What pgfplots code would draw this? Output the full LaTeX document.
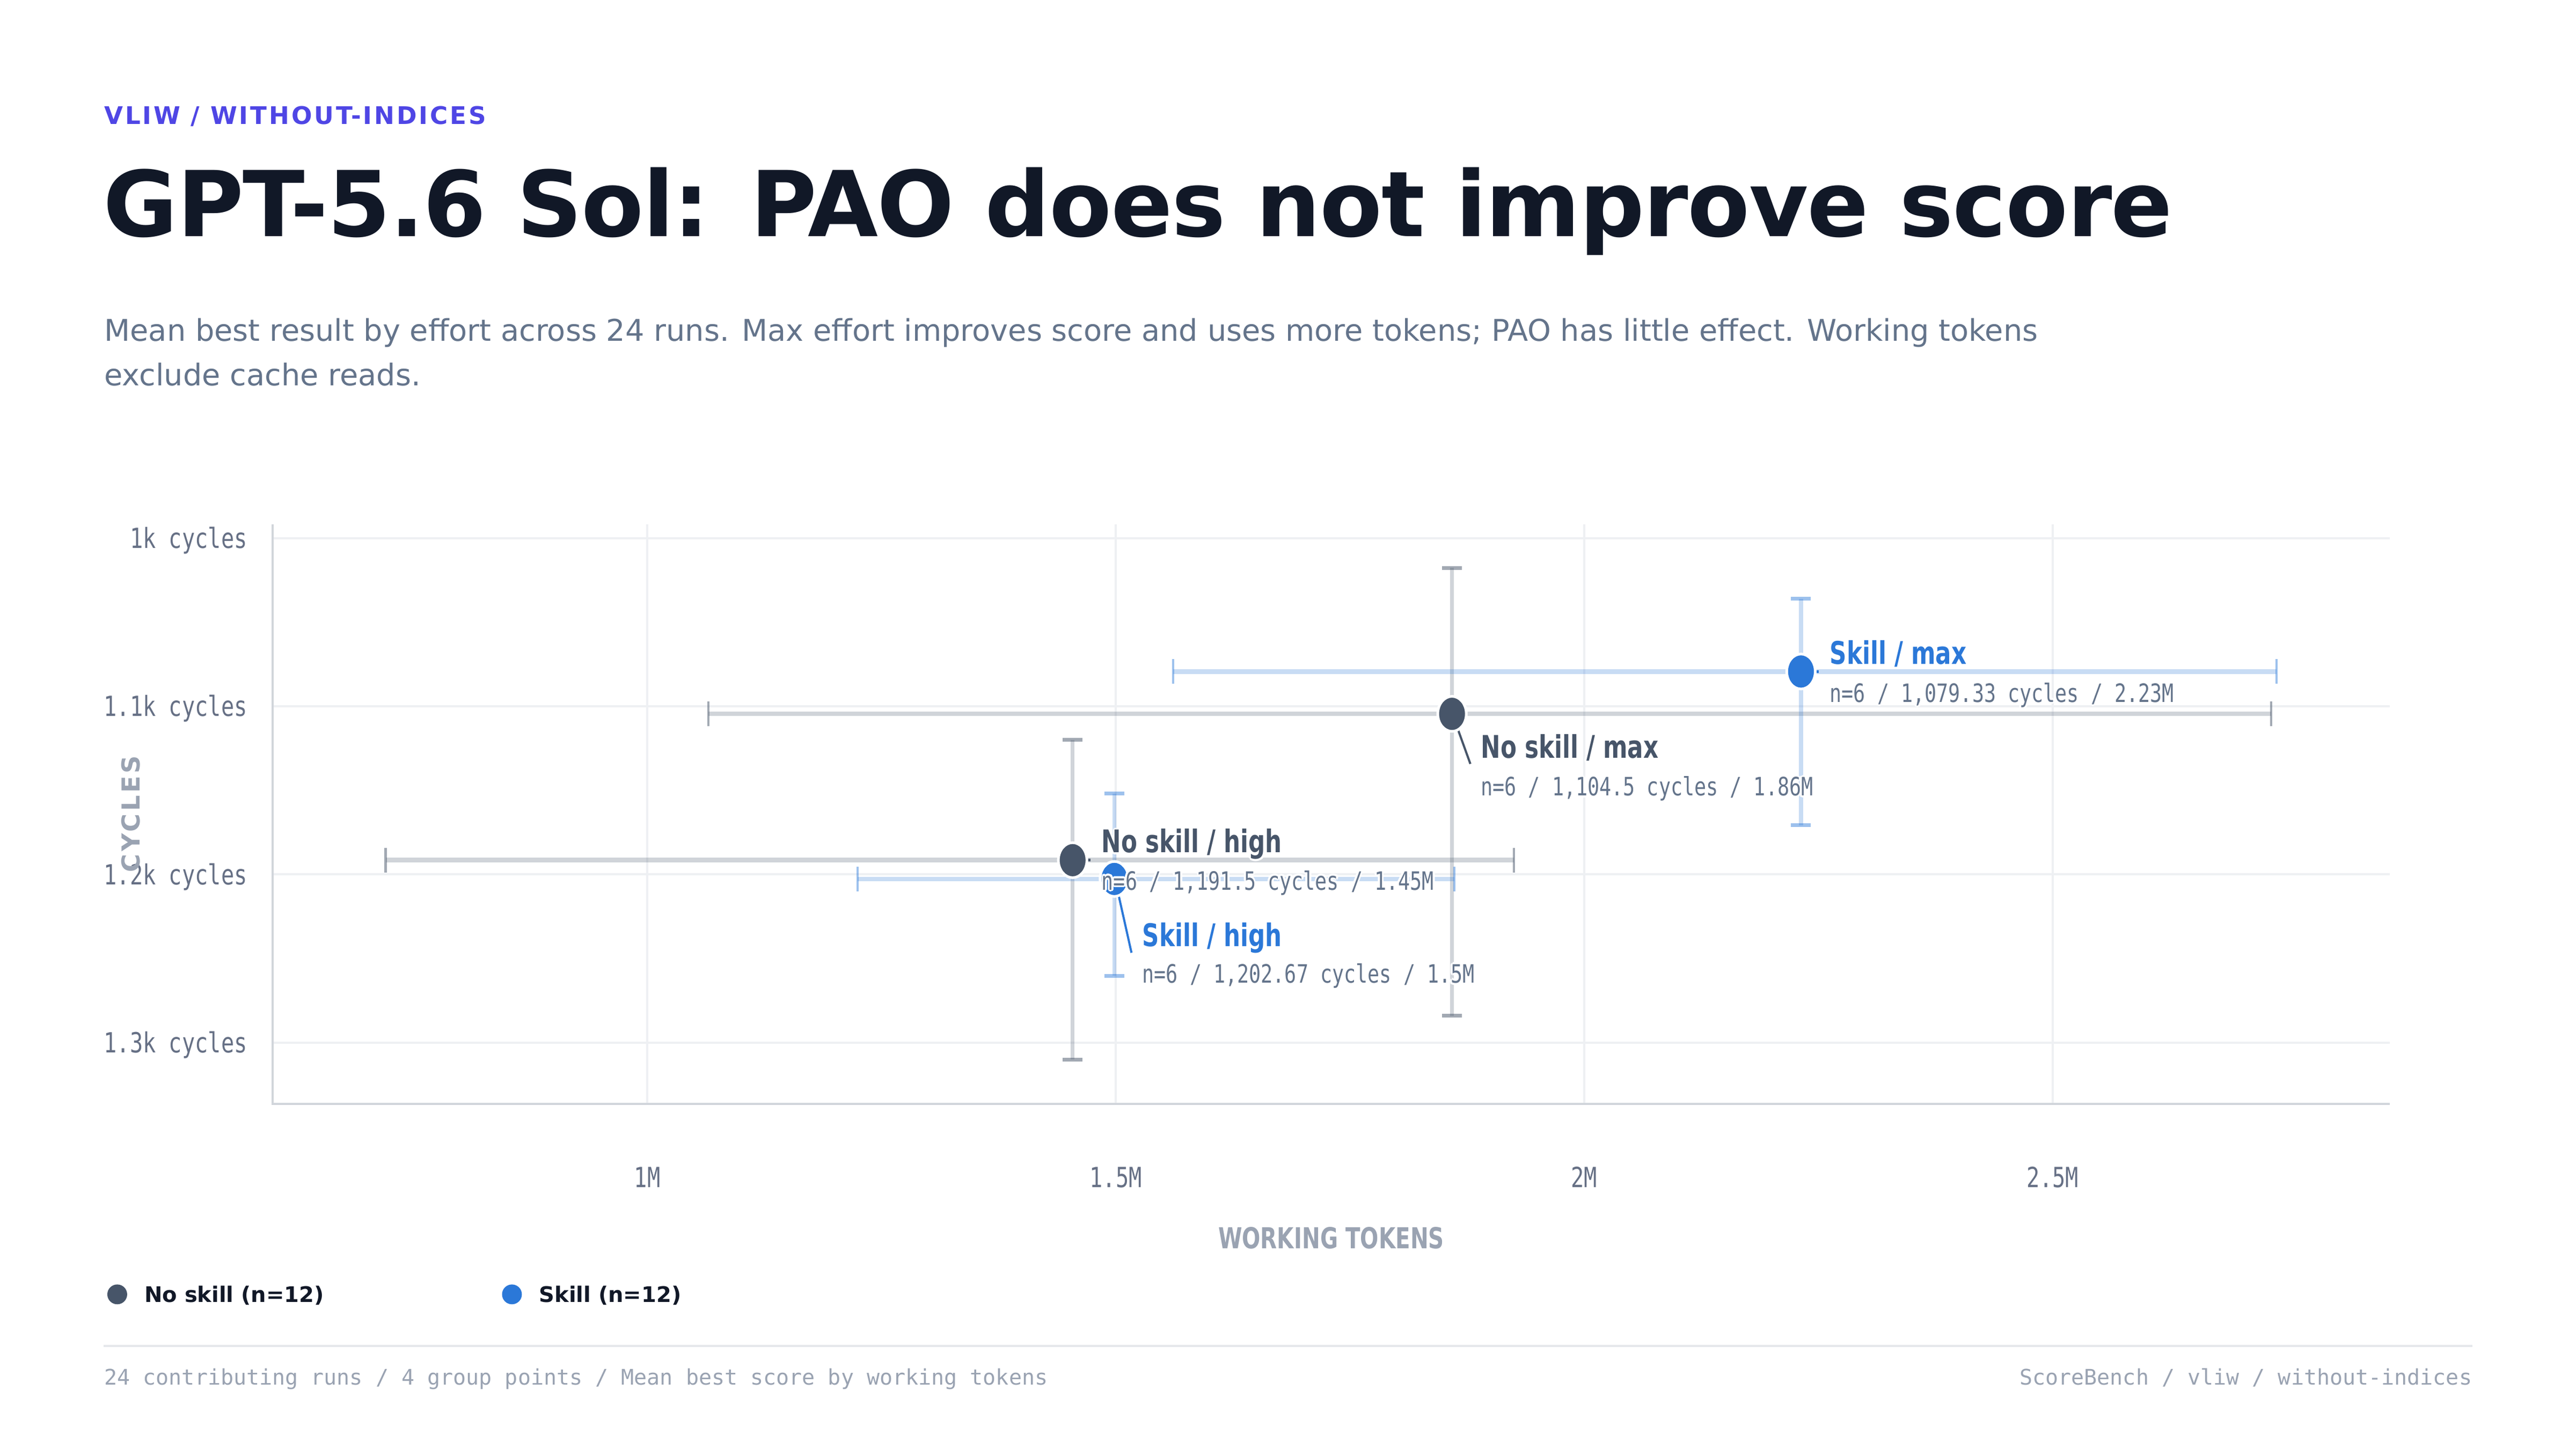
\documentclass[border=0pt]{standalone}
\usepackage{fontspec}
\setmainfont{DejaVu Sans}
\setmonofont{DejaVu Sans Mono}
\newfontfamily\condmono[FakeStretch=0.78]{DejaVu Sans Mono}
\newfontfamily\condsans[FakeStretch=0.75]{DejaVu Sans}
\usepackage{pgfplots}
\pgfplotsset{compat=1.18}

\definecolor{ink}{HTML}{111827}
\definecolor{eyebrow}{HTML}{4F46E5}
\definecolor{subt}{HTML}{64748B}
\definecolor{tickc}{HTML}{667085}
\definecolor{axtitle}{HTML}{9AA3B2}
\definecolor{gridc}{HTML}{EEF0F3}
\definecolor{axisc}{HTML}{D1D5DB}
\definecolor{noskill}{HTML}{475569}
\definecolor{skill}{HTML}{2B78D8}
\definecolor{footrule}{HTML}{E5E7EB}

\newcommand\halo[2]{%
\begingroup
\def\h##1##2{\rlap{\raisebox{##2}{\hspace*{##1}\color{white}#2}}}%
\h{1.2bp}{0bp}\h{-1.2bp}{0bp}\h{0bp}{1.2bp}\h{0bp}{-1.2bp}%
\h{0.85bp}{0.85bp}\h{-0.85bp}{0.85bp}\h{0.85bp}{-0.85bp}\h{-0.85bp}{-0.85bp}%
{\color{#1}#2}\endgroup}

\newcommand\lblfont{\condsans\bfseries\fontsize{18.9bp}{20bp}\selectfont}
\newcommand\subfont{\condmono\fontsize{15.3bp}{16bp}\selectfont}

\begin{document}
\begin{tikzpicture}
\path[use as bounding box, fill=white] (0,0) rectangle (1560bp,877.5bp);

% header
\node[anchor=base west, inner sep=0pt, text=eyebrow] at (62.9bp,802.1bp)
  {\fontsize{14.7bp}{16bp}\selectfont\bfseries\addfontfeature{LetterSpace=8.6}VLIW / WITHOUT-INDICES};
\node[anchor=base west, inner sep=0pt, text=ink] at (62.5bp,734.2bp)
  {\fontsize{55bp}{60bp}\selectfont\bfseries\addfontfeature{LetterSpace=-1.0}GPT-5.6 Sol: PAO does not improve score};
\node[anchor=base west, inner sep=0pt, text=subt] at (63bp,670.8bp)
  {\fontsize{18.12bp}{22bp}\selectfont Mean best result by effort across 24 runs. Max effort improves score and uses more tokens; PAO has little effect. Working tokens};
\node[anchor=base west, inner sep=0pt, text=subt] at (63bp,644.1bp)
  {\fontsize{18.12bp}{22bp}\selectfont exclude cache reads.};

% footer
\draw[footrule, line width=1.2bp] (62.7bp,62.4bp) -- (1497.2bp,62.4bp);
\node[anchor=base west, inner sep=0pt, text=axtitle] at (63bp,39bp)
  {\ttfamily\fontsize{13bp}{15bp}\selectfont 24 contributing runs / 4 group points / Mean best score by working tokens};
\node[anchor=base east, inner sep=0pt, text=axtitle] at (1497.2bp,39bp)
  {\ttfamily\fontsize{13bp}{15bp}\selectfont ScoreBench / vliw / without-indices};

\begin{axis}[
  at={(806.15bp,384.55bp)}, anchor=center,
  scale only axis, width=1282.1bp, height=351.1bp,
  xmin=0.6, xmax=2.86, ymin=991.7, ymax=1336.4, y dir=reverse,
  clip=false,
  axis line style={draw=none},
  xtick={1,1.5,2,2.5}, xticklabels={1M,1.5M,2M,2.5M},
  ytick={1000,1100,1200,1300},
  yticklabels={1k cycles,1.1k cycles,1.2k cycles,1.3k cycles},
  major tick length=0pt,
  grid=major, major grid style={draw=gridc, line width=1.3bp},
  xticklabel style={font=\condmono\fontsize{16.8bp}{18bp}\selectfont, text=tickc, anchor=base, inner sep=0pt, yshift=-50.5bp},
  yticklabel style={font=\condmono\fontsize{16.8bp}{18bp}\selectfont, text=tickc, anchor=base east, inner sep=0pt, xshift=-15.2bp, yshift=-6.1bp},
  xlabel={WORKING TOKENS},
  xlabel style={at={([yshift=-87.6bp]axis description cs:0.5,0)}, anchor=base, inner sep=0pt,
    font=\condsans\bfseries\fontsize{17.5bp}{19bp}\selectfont, text=axtitle},
  ylabel={\addfontfeature{LetterSpace=10}CYCLES},
  ylabel style={at={([xshift=-86bp]axis description cs:0,0.5)}, anchor=center, inner sep=0pt,
    font=\bfseries\fontsize{15bp}{17bp}\selectfont, text=axtitle},
  legend columns=2,
  legend cell align=left,
  legend style={at={([xshift=-99.9bp,yshift=-115.5bp]axis description cs:0,0)}, anchor=west,
    draw=none, fill=none, inner sep=0pt, outer sep=0pt,
    font=\color{ink}\bfseries\fontsize{13bp}{15bp}\selectfont,
    nodes={inner sep=0pt, outer sep=0pt},
    /tikz/every odd column/.append style={column sep=10.7bp},
    /tikz/every even column/.append style={column sep=108bp}},
  legend image code/.code={\draw[#1] plot coordinates {(0bp,0.4bp)};},
]
% bottom and left axis lines
\draw[axisc, line width=1.3bp] (axis cs:0.6,991.7) -- (axis cs:0.6,1336.4) -- (axis cs:2.86,1336.4);

% ---- No skill: horizontal error bars
\addplot[forget plot, color=noskill, only marks, mark=none,
  error bars/.cd, x dir=both, x explicit, error mark=|,
  error bar style={line width=2.8bp, draw opacity=0.25},
  error mark options={draw opacity=0.5, line width=1.4bp, mark size=7.5bp}]
  coordinates {
  (1.454,1191.5) += (0.4712,0) -= (0.7334,0)
  (1.859,1104.5) += (0.8743,0) -= (0.7940,0)
  };
% ---- No skill: vertical error bars
\addplot[forget plot, color=noskill, only marks, mark=none,
  error bars/.cd, y dir=both, y explicit, error mark=|,
  error bar style={line width=2.4bp, draw opacity=0.25},
  error mark options={draw opacity=0.5, line width=2.3bp, mark size=6bp}]
  coordinates {
  (1.454,1191.5) += (0,118.5) -= (0,71.5)
  (1.859,1104.5) += (0,179.5) -= (0,86.7)
  };
% ---- Skill: horizontal error bars
\addplot[forget plot, color=skill, only marks, mark=none,
  error bars/.cd, x dir=both, x explicit, error mark=|,
  error bar style={line width=2.8bp, draw opacity=0.26},
  error mark options={draw opacity=0.46, line width=1.4bp, mark size=7.5bp}]
  coordinates {
  (1.4985,1202.67) += (0.3628,0) -= (0.2739,0)
  (2.2315,1079.33) += (0.5078,0) -= (0.6701,0)
  };
% ---- Skill: vertical error bars
\addplot[forget plot, color=skill, only marks, mark=none,
  error bars/.cd, y dir=both, y explicit, error mark=|,
  error bar style={line width=2.4bp, draw opacity=0.26},
  error mark options={draw opacity=0.46, line width=2.3bp, mark size=6bp}]
  coordinates {
  (1.4985,1202.67) += (0,57.6) -= (0,50.8)
  (2.2315,1079.33) += (0,91.4) -= (0,43.3)
  };

% leader lines
\draw[noskill, line width=1.3bp] ([shift={(3.3bp,-8.7bp)}]axis cs:1.859,1104.5) -- ([shift={(11.1bp,-30.3bp)}]axis cs:1.859,1104.5);
\draw[noskill, line width=1.6bp] ([shift={(8.2bp,0bp)}]axis cs:1.454,1191.5) -- ([shift={(10.8bp,0bp)}]axis cs:1.454,1191.5);
\draw[skill, line width=1.6bp] ([shift={(7.7bp,0bp)}]axis cs:2.2315,1079.33) -- ([shift={(10.7bp,0bp)}]axis cs:2.2315,1079.33);
\draw[skill, line width=1.3bp] ([shift={(0.9bp,-2.3bp)}]axis cs:1.4985,1202.67) -- ([shift={(10.4bp,-44.7bp)}]axis cs:1.4985,1202.67);

% points
\addplot[forget plot, only marks, mark=*, mark size=10.6bp,
  mark options={xscale=0.815, draw=white, fill=noskill, line width=1.6bp}]
  coordinates {(1.454,1191.5) (1.859,1104.5)};
\addplot[forget plot, only marks, mark=*, mark size=10.6bp,
  mark options={xscale=0.815, draw=white, fill=skill, line width=1.6bp}]
  coordinates {(1.4985,1202.67) (2.2315,1079.33)};

% anchor coordinates for the labels
\coordinate (nsm) at (axis cs:1.859,1104.5);
\coordinate (skm) at (axis cs:2.2315,1079.33);
\coordinate (nsh) at (axis cs:1.454,1191.5);
\coordinate (skh) at (axis cs:1.4985,1202.67);

% legend
\addlegendimage{only marks, mark=*, mark size=5.8bp, color=noskill}
\addlegendentry{No skill (n=12)}
\addlegendimage{only marks, mark=*, mark size=5.8bp, color=skill}
\addlegendentry{Skill (n=12)}
\end{axis}

% labels (on top of everything)
\node[anchor=base west, inner sep=0pt] at ([shift={(17.3bp,-26.9bp)}]nsm) {\lblfont\halo{noskill}{No skill / max}};
\node[anchor=base west, inner sep=0pt] at ([shift={(17.3bp,-49.6bp)}]nsm) {\subfont\halo{subt}{n=6 / 1,104.5 cycles / 1.86M}};

\node[anchor=base west, inner sep=0pt] at ([shift={(17.3bp,4.6bp)}]skm) {\lblfont\halo{skill}{Skill / max}};
\node[anchor=base west, inner sep=0pt] at ([shift={(17.3bp,-18.5bp)}]skm) {\subfont\halo{subt}{n=6 / 1,079.33 cycles / 2.23M}};

\node[anchor=base west, inner sep=0pt] at ([shift={(17.4bp,4.5bp)}]nsh) {\lblfont\halo{noskill}{No skill / high}};
\node[anchor=base west, inner sep=0pt] at ([shift={(17.4bp,-18.0bp)}]nsh) {\subfont\halo{subt}{n=6 / 1,191.5 cycles / 1.45M}};

\node[anchor=base west, inner sep=0pt] at ([shift={(16.8bp,-40.7bp)}]skh) {\lblfont\halo{skill}{Skill / high}};
\node[anchor=base west, inner sep=0pt] at ([shift={(16.8bp,-63bp)}]skh) {\subfont\halo{subt}{n=6 / 1,202.67 cycles / 1.5M}};
\end{tikzpicture}
\end{document}
